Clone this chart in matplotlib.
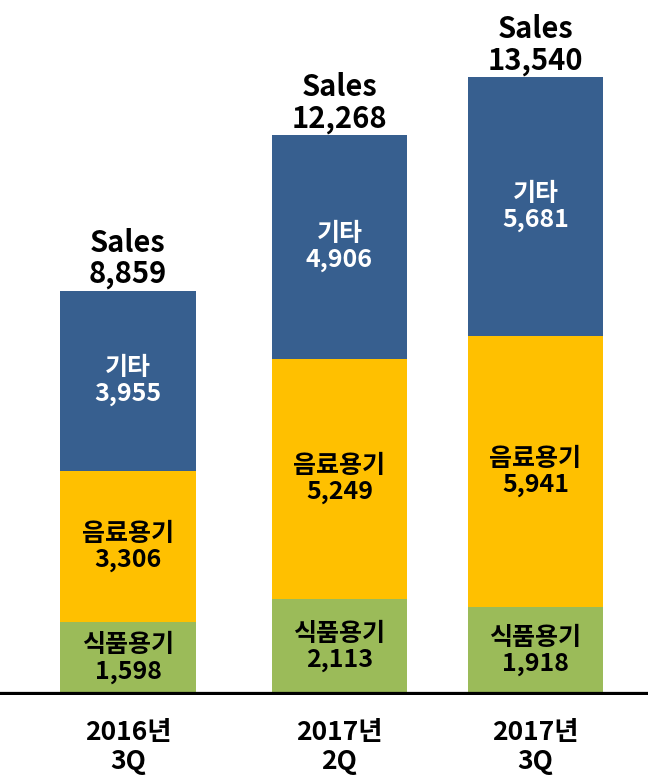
import numpy as np
import matplotlib.pyplot as plt

plt.rcParams['font.family'] = ['Noto Sans CJK KR', 'DejaVu Sans']

# data
periods = ['2016년\n3Q', '2017년\n2Q', '2017년\n3Q']
segments = ['식품용기', '음료용기', '기타']
food = [1598, 2113, 1918]
drink = [3306, 5249, 5941]
other = [3955, 4906, 5681]
sales = [8859, 12268, 13540]

colors = ['#9BBB59', '#FFC000', '#375F8F']
text_colors = ['black', 'black', 'white']

fig = plt.figure(figsize=(6.48, 7.83), dpi=100)
ax = fig.add_axes([0, 0.1124, 1, 0.8876])

xpos = np.array([0, 1, 1.927])
width = 0.64

bottom = np.zeros(3)
for name, vals, c, tc in zip(segments, [food, drink, other], colors, text_colors):
    vals = np.array(vals)
    ax.bar(xpos, vals, width, bottom=bottom, color=c, edgecolor='none')
    for x, b, v in zip(xpos, bottom, vals):
        ax.text(x, b + v / 2, f'{name}\n{v:,}', ha='center', va='center',
                color=tc, fontsize=18, fontweight='bold', linespacing=1.1)
    bottom += vals

for x, s in zip(xpos, sales):
    ax.annotate(f'Sales\n{s:,}', (x, s), xytext=(0, 1), textcoords='offset points',
                ha='center', va='bottom', fontsize=21, fontweight='bold',
                linespacing=1.05)

ax.axhline(0, color='black', lw=4.5, zorder=5)

for x, p in zip(xpos, periods):
    ax.annotate(p, (x, 0), xytext=(0, -17), textcoords='offset points',
                ha='center', va='top', fontsize=19, fontweight='bold',
                linespacing=1.1, annotation_clip=False)

ax.set_xlim(-0.605, 2.459)
ax.set_ylim(0, 15227)
ax.axis('off')

fig.savefig('out.png', dpi=100)
